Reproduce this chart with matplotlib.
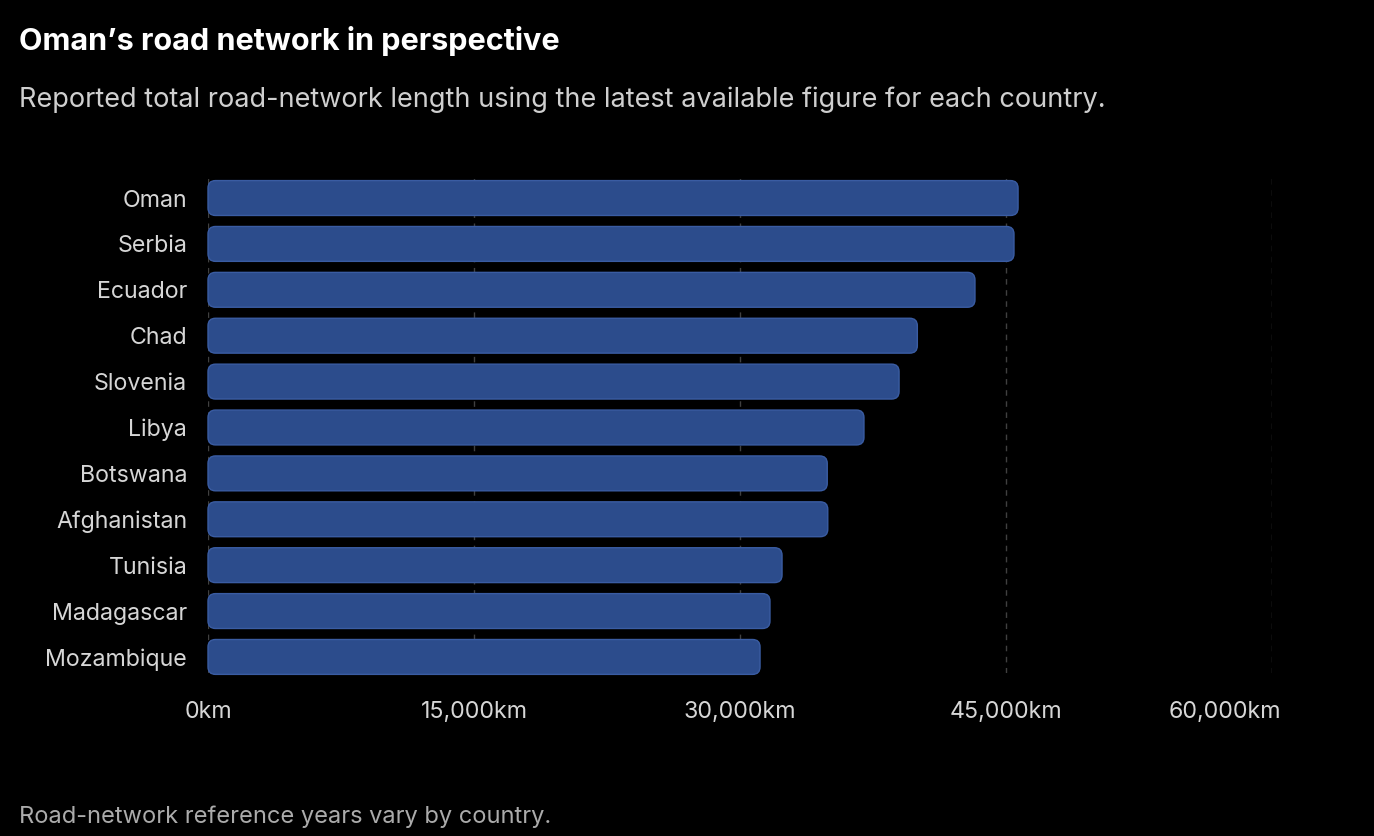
import matplotlib.pyplot as plt
from matplotlib.patches import FancyBboxPatch
from matplotlib.ticker import FuncFormatter
from matplotlib.transforms import ScaledTranslation

countries = ["Oman", "Serbia", "Ecuador", "Chad", "Slovenia", "Libya",
             "Botswana", "Afghanistan", "Tunisia", "Madagascar", "Mozambique"]
road_km = [45680, 45450, 43250, 40000, 38970, 36990,
           34920, 34950, 32370, 31690, 31130]
x_ticks = [0, 15000, 30000, 45000, 60000]

W, H = 1374, 836
plt.rcParams["font.family"] = ["Inter", "DejaVu Sans"]

fig = plt.figure(figsize=(W / 100, H / 100), dpi=100, facecolor="black")
ax = fig.add_axes([208 / W, 1 - 673 / H, (1272 - 208) / W, (673 - 176) / H])
ax.set_facecolor("black")

ax.set_xlim(0, 60000)
ax.set_ylim(len(countries) - 1 + 0.35, -0.48)

# rounded corners: radius in px converted to data units on each axis
px_x = (1272 - 208) / 60000
px_y = (673 - 176) / (len(countries) - 1 + 0.35 + 0.48)
r_px = 7.5
rx = r_px / px_x
ry = r_px / px_y
bar_h = 0.76

for i, v in enumerate(road_km):
    p = FancyBboxPatch((0, i - bar_h / 2), v, bar_h,
                       boxstyle=f"round,pad=0,rounding_size={rx}",
                       mutation_aspect=ry / rx,
                       facecolor="#2c4c8c", edgecolor="#3a5ca2", linewidth=1,
                       zorder=3, clip_on=False)
    ax.add_patch(p)

ax.set_yticks(range(len(countries)))
ax.set_yticklabels(countries)
ax.set_xticks(x_ticks)
ax.xaxis.set_major_formatter(FuncFormatter(lambda v, _: f"{int(v):,}km"))

ax.tick_params(axis="both", length=0, colors="#d6d6d6", labelsize=16.7)
ax.tick_params(axis="x", pad=20)
ax.tick_params(axis="y", pad=15)
ax.grid(axis="x", color="#404040", linestyle=(0, (4, 4)), linewidth=1, zorder=0)
for s in ax.spines.values():
    s.set_visible(False)

# last x label sits inside the chart edge
last = ax.get_xticklabels()[-1]
last.set_horizontalalignment("right")
last.set_transform(last.get_transform() + ScaledTranslation(9 / 100, 0, fig.dpi_scale_trans))

fig.text(19 / W, 1 - 41 / H, "Oman\u2019s road network in perspective",
         color="white", fontsize=22, fontweight="bold", va="center", ha="left")
fig.text(19 / W, 1 - 100 / H,
         "Reported total road-network length using the latest available figure for each country.",
         color="#cfcfcf", fontsize=19.5, va="center", ha="left")
fig.text(19 / W, 1 - 817 / H, "Road-network reference years vary by country.",
         color="#ababab", fontsize=17, va="center", ha="left")

fig.savefig("out.png", dpi=100, facecolor="black")
